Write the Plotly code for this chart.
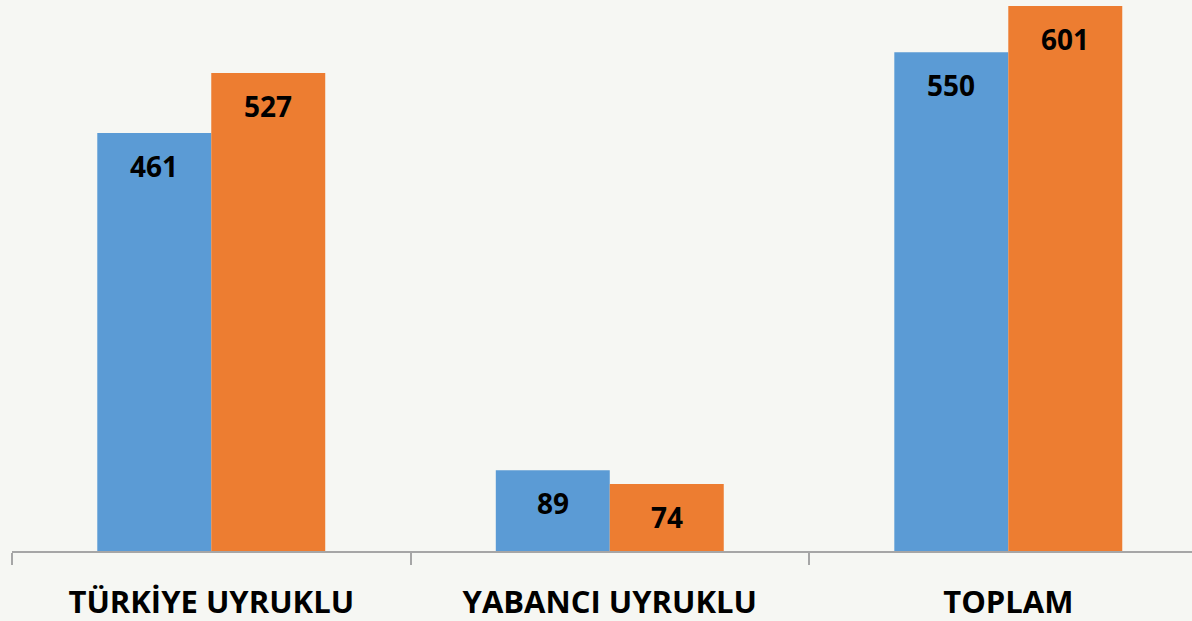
import plotly.graph_objects as go

categories = ["TÜRKİYE UYRUKLU", "YABANCI UYRUKLU", "TOPLAM"]
series_a = [461, 89, 550]
series_b = [527, 74, 601]

blue = "#5B9BD5"
orange = "#ED7D31"
bg = "#f6f7f3"
font = "Open Sans"

fig = go.Figure()
fig.add_trace(go.Bar(x=categories, y=series_a, marker_color=blue, marker_line_width=0, name="A"))
fig.add_trace(go.Bar(x=categories, y=series_b, marker_color=orange, marker_line_width=0, name="B"))

# value labels, sitting a bit below each bar top
for vals, shift in [(series_a, -57), (series_b, 57)]:
    for c, v in zip(categories, vals):
        fig.add_annotation(x=c, y=v, text=f"<b>{v}</b>", showarrow=False,
                           xshift=shift, yshift=-33, yanchor="middle",
                           font=dict(family=font, size=28, color="black"))

fig.update_layout(
    width=1192, height=621,
    margin=dict(l=12, r=0, t=0, b=70),
    paper_bgcolor=bg, plot_bgcolor=bg,
    barmode="group", bargap=0.428, bargroupgap=0,
    showlegend=False,
)
fig.update_xaxes(
    range=[-0.5, 2.461], showline=True, linecolor="#a6a6a6", linewidth=1.5,
    ticks="outside", tickson="boundaries", ticklen=12, tickcolor="#a6a6a6", tickwidth=1.5,
    tickfont=dict(family=font, size=31, color="black"), ticklabelstandoff=23,
    tickprefix="<b>", ticksuffix="</b>",
)
fig.update_yaxes(range=[0, 607.6], visible=False, showgrid=False)

fig.write_html("out.html", config={"displayModeBar": False},
               post_script="document.body.style.margin='0';")
